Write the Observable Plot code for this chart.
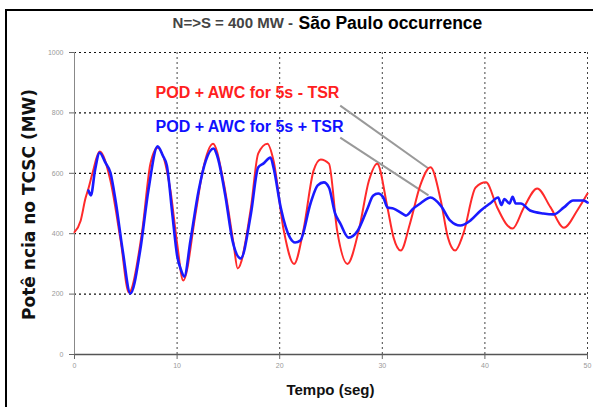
<!DOCTYPE html>
<html>
<head>
<meta charset="utf-8">
<script src="https://cdn.jsdelivr.net/npm/d3@7"></script>
<script src="https://cdn.jsdelivr.net/npm/@observablehq/plot@0.6"></script>
<style>
  html, body { margin: 0; padding: 0; background: #fff; }
  #wrap { position: relative; width: 593px; height: 407px; overflow: hidden; }
  #frame { position: absolute; left: 5px; top: 9px; right: -10px; bottom: -10px;
           border-left: 2px solid #000; border-top: 2px solid #000; pointer-events: none; }
</style>
</head>
<body>
<div id="wrap"><div id="frame"></div></div>
<script>
// ---- data ----
const titleLeft = "N=>S = 400 MW -";
const titleRight = "São Paulo occurrence";
const xLabel = "Tempo (seg)";
const yLabel = "Potê ncia no TCSC (MW)";
const seriesNames = ["POD + AWC for 5s - TSR", "POD + AWC for 5s + TSR"];
const xTicks = [0, 10, 20, 30, 40, 50];
const yTicks = [0, 200, 400, 600, 800, 1000];

// red: POD + AWC for 5s - TSR
const redT = [0, 0.6, 1.07, 1.36, 1.75, 2.44, 3.5, 4.5, 5.3, 6.6, 7.4, 8.1, 9.35, 10.0, 10.6, 11.8, 12.5, 13.5, 14.5, 15.5, 15.9,
  17.2, 17.9, 18.8, 19.4, 20.4, 21.4, 22.3, 23.3, 24.0, 24.8, 25.6, 26.6, 27.7, 28.7, 29.5, 30.5, 31.1, 31.8, 32.7, 33.7,
  34.7, 35.7, 36.4, 37.1, 37.9, 39.1, 40.1, 41.2, 42.2, 42.7, 43.8, 45.1, 46.4, 47.7, 49.0, 50];
const redP = [405, 443, 517, 550, 600, 672, 576, 377, 205, 410, 632, 685, 543, 368, 245, 467, 609, 698, 576, 368, 285,
  487, 665, 698, 642, 410, 300, 410, 609, 646, 632, 410, 300, 410, 576, 632, 487, 387, 344, 434, 560,
  620, 510, 387, 344, 400, 553, 570, 487, 427, 417, 487, 550, 487, 420, 477, 533];

// blue: POD + AWC for 5s + TSR
const blueT = [1.36, 1.6, 2.0, 2.45, 3.0, 3.5, 4.0, 4.7, 5.45, 6.4, 7.2, 8.1, 8.6, 9.0, 9.55, 10.0, 10.4, 10.7, 11.3, 12.1, 12.8, 13.55, 13.9, 14.7, 15.4, 16.2,
  17.2, 17.9, 18.4, 19.1, 19.4, 20.1, 21.0, 21.5, 22.0, 23.0, 23.7, 24.3, 24.8, 25.4, 25.9, 26.7, 27.6, 28.6, 29.1, 29.6, 30.1, 30.5, 31.1, 31.8, 32.3, 33.0,
  33.7, 34.7, 35.7, 36.6, 37.6, 38.6, 39.6, 40.5, 41.3, 41.6, 41.9, 42.4, 42.7, 43.0, 43.5, 44.4, 45.7, 46.7, 47.7, 48.6, 49.6, 50];
const blueP = [543, 527, 610, 668, 636, 602, 510, 344, 202, 344, 543, 689, 659, 626, 460, 328, 278, 258, 377, 543, 642, 682, 659, 526, 377, 318,
  467, 619, 632, 652, 619, 487, 387, 371, 377, 500, 560, 570, 553, 467, 434, 387, 410, 487, 526, 533, 520, 487, 483, 470, 460, 483,
  500, 520, 493, 444, 427, 444, 477, 500, 520, 495, 515, 500, 522, 500, 500, 477, 467, 464, 487, 510, 510, 503];

// annotation pointer lines (from legend to curves)
const pointerX1 = [25.9, 25.9];
const pointerY1 = [824, 718];
const pointerX2 = [34.5, 34.5];
const pointerY2 = [616, 527];

// ---- build ----
const red = redT.map((t, i) => ({t, p: redP[i]}));
const blue = blueT.map((t, i) => ({t, p: blueP[i]}));
const pointers = pointerX1.map((x, i) => ({x1: x, y1: pointerY1[i], x2: pointerX2[i], y2: pointerY2[i]}));

const sans = "'Liberation Sans', Arial, sans-serif";

const chart = Plot.plot({
  width: 593,
  height: 407,
  marginLeft: 74,
  marginRight: 6,
  marginTop: 52,
  marginBottom: 53,
  style: {fontFamily: sans, background: "transparent", overflow: "visible"},
  x: {domain: [0, 50], ticks: xTicks, label: null},
  y: {domain: [0, 1000], ticks: yTicks, label: null},
  marks: [
    Plot.ruleY(yTicks.filter(d => d > 0), {stroke: "#111", strokeDasharray: "2,3", strokeWidth: 1.2}),
    Plot.ruleX(xTicks.filter(d => d > 0), {stroke: "#444", strokeDasharray: "2,3", strokeWidth: 1}),
    Plot.ruleY([0], {stroke: "#555", strokeWidth: 1.5}),
    Plot.ruleX([0], {stroke: "#888", strokeWidth: 1}),
    Plot.axisX({ticks: xTicks, tickSize: 5, tickPadding: 4, fontSize: 7, color: "#999", stroke: "#666", label: null, tickFormat: d => String(d)}),
    Plot.axisY({ticks: yTicks, tickSize: 5, tickPadding: 6, fontSize: 7, color: "#999", stroke: "#666", label: null, tickFormat: d => String(d)}),
    Plot.link(pointers, {x1: "x1", y1: "y1", x2: "x2", y2: "y2", stroke: "#999", strokeWidth: 2}),
    Plot.line(red, {x: "t", y: "p", stroke: "#ff2a2a", strokeWidth: 2, curve: "monotone-x"}),
    Plot.line(blue, {x: "t", y: "p", stroke: "#1a1aff", strokeWidth: 2.6, curve: "monotone-x"}),
    Plot.text([seriesNames[0]], {x: 7.9, y: 866, text: d => d, textAnchor: "start", fill: "#ff2020", fontSize: 16, fontWeight: "bold"}),
    Plot.text([seriesNames[1]], {x: 7.9, y: 755, text: d => d, textAnchor: "start", fill: "#1010ff", fontSize: 16, fontWeight: "bold"}),
    Plot.text([titleLeft], {x: 21.3, y: 1098, text: d => d, textAnchor: "end", fill: "#444", fontSize: 15, fontWeight: "bold"}),
    Plot.text([titleRight], {x: 21.83, y: 1098, text: d => d, textAnchor: "start", fill: "#000", fontSize: 17.5, fontWeight: "bold"}),
    Plot.text([xLabel], {x: 24.95, y: -119, text: d => d, fill: "#111", fontSize: 15, fontWeight: "bold"}),
    Plot.text([yLabel], {x: -4.39, y: 497, text: d => d, rotate: -90, fill: "#111", fontSize: 17, fontWeight: "bold", fontFamily: "'DejaVu Sans', sans-serif"})
  ]
});
document.getElementById("wrap").prepend(chart);
</script>
</body>
</html>
